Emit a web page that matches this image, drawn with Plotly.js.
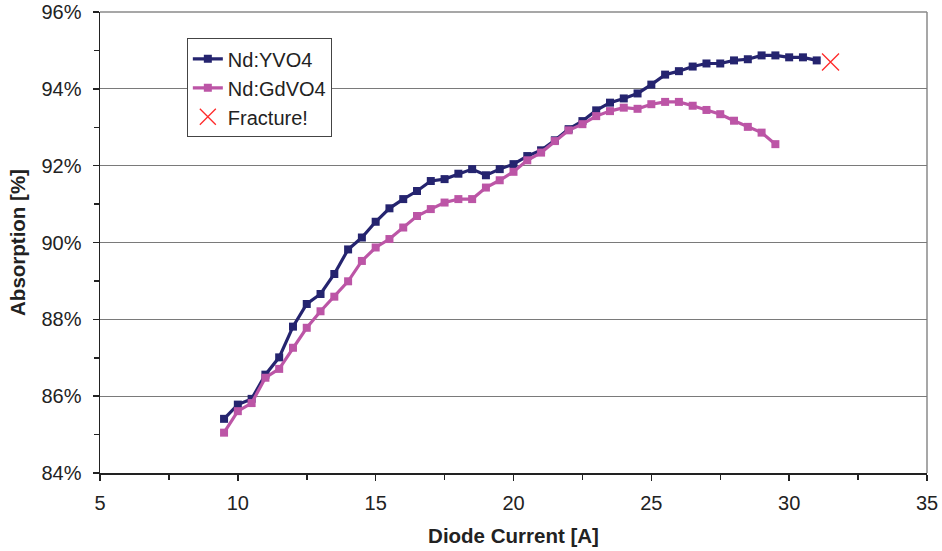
<!DOCTYPE html>
<html>
<head>
<meta charset="utf-8">
<script src="https://cdn.plot.ly/plotly-3.0.1.min.js"></script>
<style>html,body{margin:0;padding:0;background:#fff;}#chart{width:942px;height:551px;}</style>
</head>
<body>
<div id="chart"></div>
<script>
const yvo4Current = [9.5,10,10.5,11,11.5,12,12.5,13,13.5,14,14.5,15,15.5,16,16.5,17,17.5,18,18.5,19,19.5,20,20.5,21,21.5,22,22.5,23,23.5,24,24.5,25,25.5,26,26.5,27,27.5,28,28.5,29,29.5,30,30.5,31];
const yvo4Absorption = [85.41,85.78,85.93,86.56,87.01,87.81,88.40,88.66,89.18,89.82,90.13,90.54,90.89,91.13,91.34,91.60,91.65,91.79,91.91,91.75,91.91,92.04,92.25,92.40,92.66,92.95,93.16,93.44,93.64,93.75,93.88,94.11,94.37,94.46,94.58,94.66,94.66,94.74,94.77,94.87,94.87,94.82,94.82,94.74];
const gdvo4Current = [9.5,10,10.5,11,11.5,12,12.5,13,13.5,14,14.5,15,15.5,16,16.5,17,17.5,18,18.5,19,19.5,20,20.5,21,21.5,22,22.5,23,23.5,24,24.5,25,25.5,26,26.5,27,27.5,28,28.5,29,29.5];
const gdvo4Absorption = [85.05,85.61,85.82,86.48,86.71,87.26,87.78,88.21,88.59,88.99,89.52,89.87,90.09,90.39,90.69,90.87,91.04,91.13,91.13,91.43,91.62,91.84,92.14,92.34,92.64,92.92,93.08,93.29,93.42,93.51,93.48,93.60,93.66,93.66,93.56,93.45,93.34,93.17,93.01,92.86,92.56];
const fractureCurrent = [31.5];
const fractureAbsorption = [94.7];

const font = {family: 'Liberation Sans, Arial, sans-serif', color: '#222'};

const traces = [
  {x: yvo4Current, y: yvo4Absorption, name: 'Nd:YVO4', mode: 'lines+markers',
   line: {color: '#25246f', width: 3.2}, marker: {symbol: 'square', size: 8, color: '#25246f'}},
  {x: gdvo4Current, y: gdvo4Absorption, name: 'Nd:GdVO4', mode: 'lines+markers',
   line: {color: '#bc55a6', width: 3.2}, marker: {symbol: 'square', size: 8, color: '#bc55a6'}},
  {x: fractureCurrent, y: fractureAbsorption, name: 'Fracture!', mode: 'markers',
   marker: {symbol: 'x-thin-open', size: 17, color: '#ff2a2a', line: {color: '#ff2a2a', width: 1.3}}}
];

const layout = {
  width: 942, height: 551,
  margin: {l: 100, r: 15, t: 12, b: 78},
  paper_bgcolor: '#fff', plot_bgcolor: '#fff',
  font: Object.assign({size: 20}, font),
  showlegend: true,
  legend: {x: 0.105, y: 0.943, xanchor: 'left', yanchor: 'top', bgcolor: '#fff',
           bordercolor: '#444', borderwidth: 1, font: Object.assign({size: 20}, font),
           tracegroupgap: 0},
  xaxis: {
    range: [5, 35], dtick: 5, tick0: 5, showgrid: false, zeroline: false,
    showline: true, linecolor: '#222', linewidth: 1.5,
    ticks: 'outside', ticklen: 6, tickcolor: '#222', tickwidth: 1.5, ticklabelstandoff: 5,
    minor: {dtick: 2.5, ticks: 'outside', ticklen: 5, tickcolor: '#222', tickwidth: 1.5, showgrid: false},
    tickfont: Object.assign({size: 20}, font),
    title: {text: '<b>Diode Current [A]</b>', font: Object.assign({size: 20.5}, font), standoff: 16}
  },
  yaxis: {
    range: [84, 96], dtick: 2, tick0: 84, ticksuffix: '%', zeroline: false,
    showgrid: true, gridcolor: '#7a7a7a', gridwidth: 1.3,
    showline: true, linecolor: '#222', linewidth: 1.5,
    ticks: 'outside', ticklen: 6, tickcolor: '#222', tickwidth: 1.5, ticklabelstandoff: 7,
    minor: {dtick: 1, ticks: 'outside', ticklen: 5, tickcolor: '#222', tickwidth: 1.5, showgrid: false},
    tickfont: Object.assign({size: 20}, font),
    title: {text: '<b>Absorption [%]</b>', font: Object.assign({size: 20.5}, font), standoff: 10}
  },
  shapes: [
    {type: 'line', xref: 'paper', yref: 'paper', x0: 1, x1: 1, y0: 0, y1: 1, line: {color: '#8a8a8a', width: 1.5}, layer: 'below'},
    {type: 'line', xref: 'paper', yref: 'paper', x0: 0, x1: 1, y0: 1, y1: 1, line: {color: '#8a8a8a', width: 1.5}, layer: 'below'}
  ]
};

Plotly.newPlot('chart', traces, layout, {displayModeBar: false, staticPlot: true});
</script>
</body>
</html>
